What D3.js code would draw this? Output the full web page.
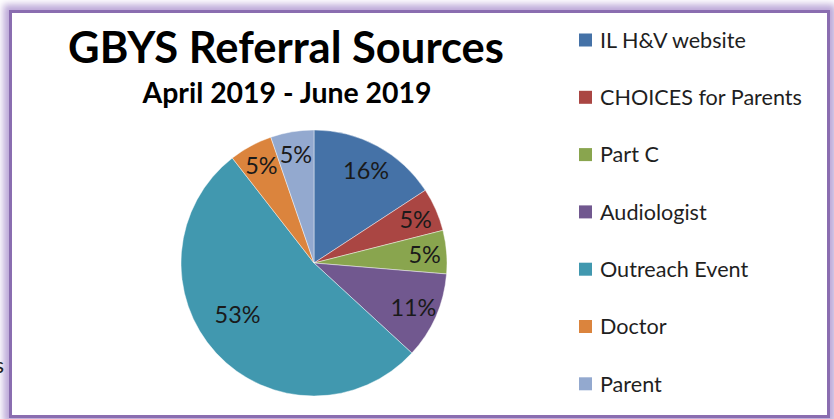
<!DOCTYPE html>
<html>
<head>
<meta charset="utf-8">
<script src="https://cdn.jsdelivr.net/npm/d3@7"></script>
<style>
  html, body { margin: 0; padding: 0; background: #fff; }
  svg { display: block; }
  text { font-family: Lato, "Open Sans", sans-serif; }
</style>
</head>
<body>
<svg id="chart" width="834" height="419"></svg>
<script>
// ---- data ----
const categories = ["IL H&V website", "CHOICES for Parents", "Part C", "Audiologist", "Outreach Event", "Doctor", "Parent"];
const referrals = [3, 1, 1, 2, 10, 1, 1];
const colors = ["#4572A7", "#AA4643", "#89A54E", "#71588F", "#4198AF", "#DB843D", "#93A9CF"];
const titleText = "GBYS Referral Sources";
const subtitleText = "April 2019 - June 2019";

// ---- layout ----
const W = 834, H = 419;
const svg = d3.select("#chart");
const defs = svg.append("defs");

// frame glow
const glow = defs.append("filter").attr("id", "glow")
  .attr("x", "-5%").attr("y", "-5%").attr("width", "110%").attr("height", "110%");
glow.append("feGaussianBlur").attr("stdDeviation", 3.5);

svg.append("rect").attr("x", 10.5).attr("y", 11.5).attr("width", 818).attr("height", 405)
  .attr("fill", "none").attr("stroke", "#bca8d8").attr("stroke-width", 14)
  .attr("filter", "url(#glow)");

// cut-off text fragment at the left edge
svg.append("text").attr("x", 4).attr("y", 373).attr("text-anchor", "end")
  .attr("font-size", 22).attr("fill", "#222").text("s");

svg.append("rect").attr("x", 10.5).attr("y", 11.5).attr("width", 818).attr("height", 405)
  .attr("fill", "#fff").attr("stroke", "#8A6DB0").attr("stroke-width", 3);

// helper: fit font size to target width
function fit(sel, targetW) {
  const fs = parseFloat(sel.attr("font-size"));
  const w = sel.node().getComputedTextLength();
  sel.attr("font-size", fs * targetW / w);
}

// titles
const title = svg.append("text").attr("x", 286).attr("y", 63).attr("text-anchor", "middle")
  .attr("font-weight", 700).attr("font-size", 40).attr("fill", "#000").text(titleText);
fit(title, 436);
const sub = svg.append("text").attr("x", 287).attr("y", 103).attr("text-anchor", "middle")
  .attr("font-weight", 700).attr("font-size", 26).attr("fill", "#000").text(subtitleText);
fit(sub, 289);

// pie
const cx = 314, cy = 263, r = 133;
const total = d3.sum(referrals);
const pie = d3.pie().sort(null).startAngle(0).endAngle(2 * Math.PI);
const arcs = pie(referrals);
const arc = d3.arc().innerRadius(0).outerRadius(r);

const g = svg.append("g").attr("transform", `translate(${cx},${cy})`);
g.selectAll("path").data(arcs).join("path")
  .attr("d", arc)
  .attr("fill", (d, i) => colors[i])
  .attr("stroke", "rgba(255,255,255,0.55)")
  .attr("stroke-width", 0.8);

const labels = g.selectAll("text.lbl").data(arcs).join("text")
  .attr("class", "lbl")
  .attr("text-anchor", "middle")
  .attr("dominant-baseline", "central")
  .attr("font-size", 24)
  .attr("fill", "#1a1a1a")
  .text(d => Math.round(d.value / total * 100) + "%")
  .attr("transform", d => {
    const frac = d.value / total;
    const lr = r * (0.85 - 0.3 * frac);
    // large slices: label drifts slightly toward the slice's far edge
    const a = (d.startAngle + d.endAngle) / 2 + frac * frac * 0.55;
    return `translate(${lr * Math.sin(a)},${-lr * Math.cos(a)})`;
  });
// fit label size so "16%" ~ 46px wide
const l16 = labels.filter((d, i) => i === 0);
const lfs = 24 * 46 / l16.node().getComputedTextLength();
labels.attr("font-size", lfs);

// legend
const legX = 579, legY0 = 40, legStep = 57.3, sq = 13;
const leg = svg.append("g");
const items = leg.selectAll("g").data(categories).join("g")
  .attr("transform", (d, i) => `translate(${legX},${legY0 + i * legStep})`);
items.append("rect").attr("x", 0).attr("y", -sq / 2).attr("width", sq).attr("height", sq)
  .attr("fill", (d, i) => colors[i]);
const legTexts = items.append("text").attr("x", 21).attr("dy", "0.36em")
  .attr("font-size", 20).attr("fill", "#1f1f1f").text(d => d);
const widest = legTexts.filter((d, i) => i === 1).node().getComputedTextLength();
legTexts.attr("font-size", 20 * 202 / widest);
</script>
</body>
</html>
